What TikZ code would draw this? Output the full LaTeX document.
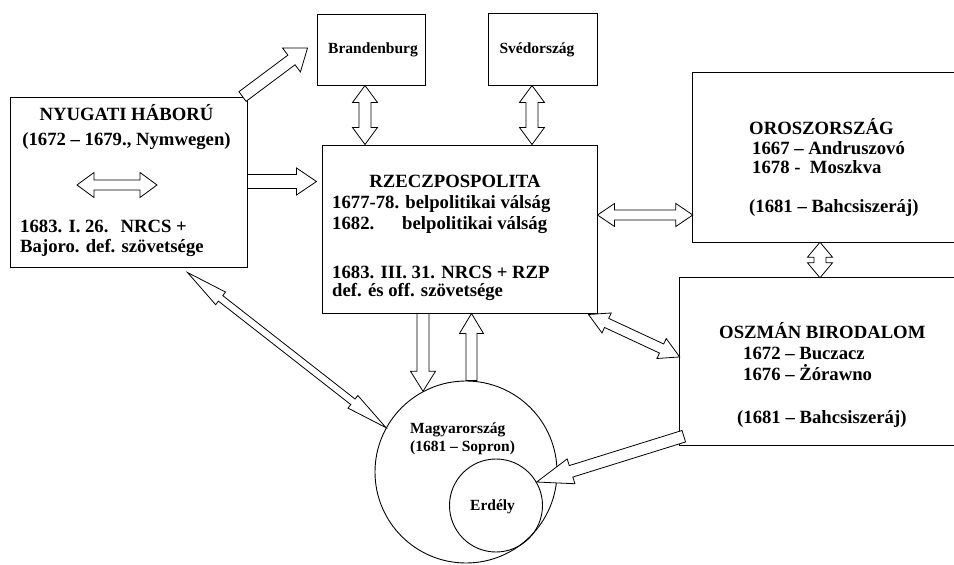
\documentclass[tikz,border=0pt]{standalone}
\usepackage{fontspec}
\setmainfont{Liberation Serif}
\usetikzlibrary{calc}
\tikzset{
  box/.style={draw, line width=1pt, inner sep=0pt, rectangle},
  openbox/.style={rectangle, inner sep=0pt},
  edgeline/.style={line width=1pt},
  arr/.style={draw, fill=white, line width=0.8pt, line join=miter},
  ring/.style={draw, circle, line width=0.9pt, inner sep=0pt},
  bigtxt/.style={font=\fontsize{18.7pt}{22pt}\selectfont\bfseries, inner sep=0pt},
  smalltxt/.style={font=\fontsize{15.5pt}{18pt}\selectfont\bfseries, inner sep=0pt},
}
\def\ArP(#1,#2){([shift={(\p1)},rotate=\n1]#1,#2)}
% single-headed block arrow: from, to, shaft half width, head half width, head length
\newcommand\sarrow[6][]{%
  \draw[arr,#1] let \p1=#2, \p2=#3, \n1={atan2(\y2-\y1,\x2-\x1)}, \n2={veclen(\x2-\x1,\y2-\y1)} in
    \ArP(0,#4) -- \ArP(\n2-#6,#4) -- \ArP(\n2-#6,#5) -- \ArP(\n2,0) --
    \ArP(\n2-#6,-#5) -- \ArP(\n2-#6,-#4) -- \ArP(0,-#4) -- cycle;}
% double-headed block arrow
\newcommand\darrow[6][]{%
  \draw[arr,#1] let \p1=#2, \p2=#3, \n1={atan2(\y2-\y1,\x2-\x1)}, \n2={veclen(\x2-\x1,\y2-\y1)} in
    \ArP(0,0) -- \ArP(#6,#5) -- \ArP(#6,#4) -- \ArP(\n2-#6,#4) -- \ArP(\n2-#6,#5) -- \ArP(\n2,0) --
    \ArP(\n2-#6,-#5) -- \ArP(\n2-#6,-#4) -- \ArP(#6,-#4) -- \ArP(#6,-#5) -- cycle;}
\begin{document}
\begin{tikzpicture}[x=1pt,y=-1pt]
\useasboundingbox (0,0) rectangle (954,565);

% boxes
\node[box, minimum width=237pt, minimum height=170pt] (ny) at (128.5,182) {};
\node[box, minimum width=108pt, minimum height=71pt] (brand) at (371,49.5) {};
\node[box, minimum width=109pt, minimum height=72pt] (sved) at (542.5,49) {};
\node[box, minimum width=275pt, minimum height=168pt] (rz) at (459.5,229) {};
\node[openbox, minimum width=261pt, minimum height=169pt] (oro) at (823.5,157.5) {};
\node[openbox, minimum width=274pt, minimum height=167pt] (osz) at (817,361.5) {};
\draw[edgeline] (oro.north east) -- (oro.north west) -- (oro.south west) -- (oro.south east);
\draw[edgeline] (osz.north east) -- (osz.north west) -- (osz.south west) -- (osz.south east);
\node[ring, minimum size=182pt] (hu) at (466,472) {};
\node[ring, minimum size=93pt] (er) at (496,505.5) {};

% texts
\node[bigtxt, anchor=base] (nyT1) at (126.5,120) {NYUGATI HÁBORÚ};
\node[bigtxt, anchor=base] (nyT2) at (126.5,145) {(1672 – 1679., Nymwegen)};
\node[bigtxt, anchor=base west] (nyT3) at (20,232) {1683. I. 26.\hspace{12pt}NRCS +};
\node[bigtxt, anchor=base west] (nyT4) at (20,252) {Bajoro. def. szövetsége};

\node[smalltxt, anchor=base] (brandT) at (373,53) {Brandenburg};
\node[smalltxt, anchor=base] (svedT) at (537,53) {Svédország};

\node[bigtxt, anchor=base] (rzT1) at (455,187) {RZECZPOSPOLITA};
\node[bigtxt, anchor=base west] (rzT2) at (332,208) {1677-78. belpolitikai válság};
\node[bigtxt, anchor=base west] (rzT3) at (332,229) {\makebox[215pt][l]{1682.\hfill belpolitikai válság}};
\node[bigtxt, anchor=base west] (rzT4) at (332,278) {1683. III. 31. NRCS + RZP};
\node[bigtxt, anchor=base west] (rzT5) at (332,296) {def. és off. szövetsége};

\node[bigtxt, anchor=base west] (oroT1) at (749,134) {OROSZORSZÁG};
\node[bigtxt, anchor=base west] (oroT2) at (752,154) {1667 – Andruszovó};
\node[bigtxt, anchor=base west] (oroT3) at (752,173) {1678 -\ \ Moszkva};
\node[bigtxt, anchor=base west] (oroT4) at (749,212) {(1681 – Bahcsiszeráj)};

\node[bigtxt, anchor=base west] (oszT1) at (719,338) {OSZMÁN BIRODALOM};
\node[bigtxt, anchor=base west] (oszT2) at (743,359) {1672 – Buczacz};
\node[bigtxt, anchor=base west] (oszT3) at (743,380) {1676 – Żórawno};
\node[bigtxt, anchor=base west] (oszT4) at (737,423) {(1681 – Bahcsiszeráj)};

\node[smalltxt, anchor=base west] (huT1) at (410,433) {Magyarország};
\node[smalltxt, anchor=base west] (huT2) at (410,451) {(1681 – Sopron)};
\node[smalltxt, anchor=base west] (erT) at (470,510) {Erdély};

% connectors
\sarrow{([xshift=-5pt]ny.north east)}{([xshift=-9pt,yshift=1.5pt]brand.west)}{6}{15}{20}
\darrow{($(ny.center)+(-51.5,3)$)}{($(ny.center)+(28.5,3)$)}{5}{12.5}{17}
\sarrow{([yshift=0.5pt]ny.east)}{([yshift=0.5pt,xshift=-5pt]ny.east -| rz.west)}{7}{13.5}{20}
\darrow{([xshift=-6pt]brand.south)}{([xshift=-6pt]brand.south |- rz.north)}{6}{12.5}{17}
\darrow{([xshift=-10.5pt]sved.south)}{([xshift=-10.5pt]sved.south |- rz.north)}{6}{12.5}{17}
\darrow{([yshift=14pt]rz.east)}{([yshift=14pt]rz.east -| oro.west)}{5}{11.5}{17}
\darrow{([xshift=-3.5pt]oro.south)}{([xshift=-3.5pt]oro.south |- osz.north)}{6}{12.5}{15}
\darrow{([xshift=-9pt,yshift=-1pt]rz.south east)}{([yshift=4.5pt]osz.west)}{5}{11}{20}
\sarrow{([xshift=-36.5pt]rz.south)}{([xshift=-36.5pt]rz.south |- hu.118)}{6}{12.5}{20}
\sarrow{([xshift=5.5pt]hu.north)}{([xshift=5.5pt]hu.north |- rz.south)}{5.5}{12}{20}
\darrow{([xshift=-60pt,yshift=-5pt]ny.south east)}{(hu.151)}{3.5}{8}{42}
\sarrow{([xshift=4pt,yshift=9pt]osz.south west)}{(er.30)}{6}{13}{36}
\end{tikzpicture}
\end{document}
